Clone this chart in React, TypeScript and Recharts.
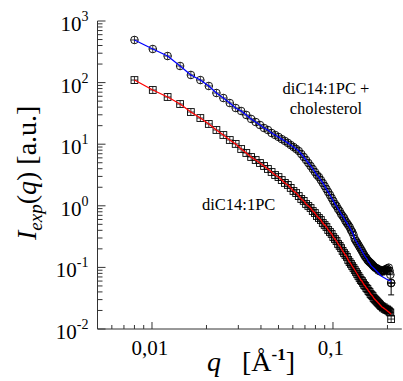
import React from "react";
import { ComposedChart, XAxis, YAxis, Scatter, ErrorBar } from "recharts";

// q values [1/Å]
const Q = [
  0.0080, 0.0101, 0.0122, 0.0143, 0.0164, 0.0185, 0.0206, 0.0227, 0.0248, 0.0269,
  0.0290, 0.0311, 0.0332, 0.0353, 0.0374, 0.0395, 0.0416, 0.0437, 0.0458, 0.0479,
  0.0500, 0.0521, 0.0542, 0.0563, 0.0584, 0.0605, 0.0626, 0.0647, 0.0668, 0.0689,
  0.0710, 0.0731, 0.0752, 0.0773, 0.0794, 0.0815, 0.0836, 0.0857, 0.0878, 0.0899,
  0.0920, 0.0941, 0.0962, 0.0983, 0.1004, 0.1025, 0.1046, 0.1067, 0.1088, 0.1109,
  0.1130, 0.1151, 0.1172, 0.1193, 0.1214, 0.1235, 0.1256, 0.1277, 0.1298, 0.1319,
  0.1340, 0.1361, 0.1382, 0.1403, 0.1424, 0.1445, 0.1466, 0.1487, 0.1508, 0.1529,
  0.1550, 0.1571, 0.1592, 0.1613, 0.1634, 0.1655, 0.1676, 0.1697, 0.1718, 0.1739,
  0.1760, 0.1781, 0.1802, 0.1823, 0.1844, 0.1865, 0.1886, 0.1907, 0.1928, 0.1949,
  0.1970, 0.1991, 0.2012, 0.2033, 0.2054, 0.2075, 0.2096,
];

// diC14:1PC + cholesterol (circles)
const CHOL = [
  492, 351, 270, 186, 133, 110, 88.1, 67.8, 56.2, 46.6,
  38.7, 34.6, 29.8, 25.7, 22.9, 20.5, 18.3, 17.0, 15.2, 14.1,
  13.1, 12.1, 11.3, 10.5, 9.70, 9.01, 8.36, 7.76, 6.94, 6.20,
  5.54, 4.95, 4.43, 3.96, 3.54, 3.16, 2.93, 2.62, 2.35, 2.10,
  1.87, 1.67, 1.50, 1.34, 1.20, 1.07, 0.993, 0.887, 0.823, 0.736,
  0.683, 0.634, 0.567, 0.526, 0.488, 0.453, 0.405, 0.376, 0.336, 0.289,
  0.268, 0.249, 0.231, 0.214, 0.199, 0.185, 0.171, 0.159, 0.148, 0.142,
  0.132, 0.127, 0.122, 0.118, 0.114, 0.109, 0.105, 0.101, 0.0978, 0.0978,
  0.0942, 0.0890, 0.0925, 0.0860, 0.0890, 0.0850, 0.0880, 0.0900, 0.0870, 0.0930,
  0.0910, 0.0960, 0.0890, 0.0990, 0.0880, 0.0760, 0.0558,
];

// fit for diC14:1PC + cholesterol (blue line)
const CHOL_FIT = [
  492, 351, 270, 186, 133, 110, 88.1, 67.8, 56.2, 46.6,
  38.7, 34.6, 29.8, 25.7, 22.9, 20.5, 18.3, 17.0, 15.2, 14.1,
  13.1, 12.1, 11.3, 10.5, 9.70, 9.01, 8.36, 7.76, 6.94, 6.20,
  5.54, 4.95, 4.43, 3.96, 3.54, 3.16, 2.93, 2.62, 2.35, 2.10,
  1.87, 1.67, 1.50, 1.34, 1.20, 1.07, 0.993, 0.887, 0.823, 0.736,
  0.683, 0.634, 0.567, 0.526, 0.488, 0.453, 0.405, 0.376, 0.336, 0.289,
  0.268, 0.249, 0.231, 0.214, 0.199, 0.185, 0.171, 0.159, 0.148, 0.142,
  0.132, 0.122, 0.118, 0.109, 0.105, 0.101, 0.0978, 0.0942, 0.0907, 0.0874,
  0.0842, 0.0811, 0.0781, 0.0752, 0.0725, 0.0712, 0.0699, 0.0686, 0.0673, 0.0661,
  0.0648, 0.0638, 0.0628, 0.0620, 0.0612, 0.0605, 0.0600,
];

// diC14:1PC (squares)
const PC = [
  110, 75.9, 58.4, 44.9, 33.3, 26.6, 21.3, 17.0, 14.1, 11.7,
  10.1, 8.36, 7.20, 6.20, 5.54, 4.95, 4.43, 3.96, 3.54, 3.16,
  2.93, 2.62, 2.35, 2.18, 1.95, 1.74, 1.61, 1.44, 1.29, 1.20,
  1.07, 0.993, 0.921, 0.823, 0.764, 0.683, 0.634, 0.588, 0.526, 0.488,
  0.453, 0.405, 0.376, 0.349, 0.311, 0.289, 0.268, 0.240, 0.223, 0.206,
  0.185, 0.171, 0.159, 0.148, 0.132, 0.122, 0.114, 0.105, 0.0978, 0.0907,
  0.0842, 0.0781, 0.0725, 0.0673, 0.0624, 0.0601, 0.0558, 0.0518, 0.0499, 0.0463,
  0.0446, 0.0414, 0.0399, 0.0370, 0.0356, 0.0343, 0.0319, 0.0307, 0.0296, 0.0285,
  0.0274, 0.0264, 0.0255, 0.0245, 0.0236, 0.0232, 0.0222, 0.0225, 0.0212, 0.0215,
  0.0204, 0.0208, 0.0200, 0.0198, 0.0190, 0.0185, 0.0145,
];

// fit for diC14:1PC (red line)
const PC_FIT = [
  110, 75.9, 58.4, 44.9, 33.3, 26.6, 21.3, 17.0, 14.1, 11.7,
  10.1, 8.36, 7.20, 6.20, 5.54, 4.95, 4.43, 3.96, 3.54, 3.16,
  2.93, 2.62, 2.35, 2.18, 1.95, 1.74, 1.61, 1.44, 1.29, 1.20,
  1.07, 0.993, 0.921, 0.823, 0.764, 0.683, 0.634, 0.588, 0.526, 0.488,
  0.453, 0.405, 0.376, 0.349, 0.311, 0.289, 0.268, 0.240, 0.223, 0.206,
  0.185, 0.171, 0.159, 0.148, 0.132, 0.122, 0.114, 0.105, 0.0978, 0.0907,
  0.0842, 0.0781, 0.0725, 0.0673, 0.0624, 0.0601, 0.0558, 0.0518, 0.0499, 0.0463,
  0.0446, 0.0414, 0.0399, 0.0370, 0.0356, 0.0343, 0.0319, 0.0307, 0.0296, 0.0285,
  0.0274, 0.0264, 0.0255, 0.0245, 0.0236, 0.0228, 0.0223, 0.0218, 0.0213, 0.0208,
  0.0203, 0.0198, 0.0193, 0.0188, 0.0183, 0.0178, 0.0173,
];

// error bar on the last cholesterol point: [down, up]
const CHOL_LAST_ERR = [0.020, 0];

const X_TICKS = [0.006, 0.007, 0.008, 0.009, 0.01, 0.02, 0.03, 0.04, 0.05, 0.06, 0.07, 0.08, 0.09, 0.1, 0.2];
const X_MAJOR = [0.01, 0.1];
const X_LABELS = ["0,01", "0,1"];

const Y_TICKS = [
  0.01, 0.02, 0.03, 0.04, 0.05, 0.06, 0.07, 0.08, 0.09,
  0.1, 0.2, 0.3, 0.4, 0.5, 0.6, 0.7, 0.8, 0.9,
  1, 2, 3, 4, 5, 6, 7, 8, 9,
  10, 20, 30, 40, 50, 60, 70, 80, 90,
  100, 200, 300, 400, 500, 600, 700, 800, 900,
  1000,
];
const Y_MAJOR = [0.01, 0.1, 1, 10, 100, 1000];
const Y_EXP = ["-2", "-1", "0", "1", "2", "3"];

const AXIS = "#333";
const FF = '"Times New Roman", "Liberation Serif", Tinos, Georgia';
// baseline offset (fraction of font size) inside a line-height:1 box
const BL = 0.8375;

const cholPts = Q.map((q, i) => ({ q, I: CHOL[i] }));
const cholFitPts = Q.map((q, i) => ({ q, I: CHOL_FIT[i] }));
const pcPts = Q.map((q, i) => ({ q, I: PC[i] }));
const pcFitPts = Q.map((q, i) => ({ q, I: PC_FIT[i] }));
const cholErrPts = [{ q: Q[Q.length - 1], I: CHOL[CHOL.length - 1], err: CHOL_LAST_ERR }];

const T = (p: any) => {
  const { children, ...rest } = p;
  return (
    <text fill="#000" {...rest} style={{ fontFamily: FF }}>
      {children}
    </text>
  );
};

// HTML label placed by its baseline
const H = (p: any) => {
  const { x, y, size, align, width, children, extra } = p;
  const w = width || 200;
  const left = align === "center" ? x - w / 2 : x;
  return (
    <div
      style={{
        position: "absolute",
        left,
        top: y - size * BL,
        width: align === "center" ? w : undefined,
        textAlign: align === "center" ? "center" : "left",
        fontSize: size,
        lineHeight: 1,
        whiteSpace: "nowrap",
        fontFamily: FF,
        color: "#000",
        ...(extra || {}),
      }}
    >
      {children}
    </div>
  );
};

const XTick = (props: any) => {
  const { x, y, payload } = props;
  const mi = X_MAJOR.indexOf(payload.value);
  const len = mi >= 0 ? 7 : 4;
  return (
    <g>
      <line x1={x} x2={x} y1={y} y2={y - len} stroke={AXIS} strokeWidth={1} />
      {mi >= 0 && (
        <T x={x - 2} y={y + 26} textAnchor="middle" fontSize={21}>
          {X_LABELS[mi]}
        </T>
      )}
    </g>
  );
};

const YTick = (props: any) => {
  const { x, y, payload } = props;
  const mi = Y_MAJOR.indexOf(payload.value);
  const len = mi >= 0 ? 8 : 5;
  return (
    <g>
      <line x1={x} x2={x + len} y1={y} y2={y} stroke={AXIS} strokeWidth={1} />
      {mi >= 0 && (
        <T x={x - 9} y={y + 10} textAnchor="end" fontSize={21}>
          10
          <tspan dy={-10} fontSize={14}>{Y_EXP[mi]}</tspan>
        </T>
      )}
    </g>
  );
};

const CircleMark = (props: any) => {
  const { cx, cy } = props;
  if (cx == null || cy == null) return <g />;
  const r = 3.8;
  return (
    <g>
      <circle cx={cx} cy={cy} r={r} fill="none" stroke="#000" strokeWidth={0.9} />
      <line x1={cx - r} x2={cx + r} y1={cy} y2={cy} stroke="#000" strokeWidth={0.8} />
      <line x1={cx} x2={cx} y1={cy - r} y2={cy + r} stroke="#000" strokeWidth={0.8} />
    </g>
  );
};

const SquareMark = (props: any) => {
  const { cx, cy } = props;
  if (cx == null || cy == null) return <g />;
  const h = 3.4;
  return (
    <g>
      <rect x={cx - h} y={cy - h} width={2 * h} height={2 * h} fill="none" stroke="#000" strokeWidth={0.9} />
      <line x1={cx - h} x2={cx + h} y1={cy} y2={cy} stroke="#000" strokeWidth={0.8} />
      <line x1={cx} x2={cx} y1={cy - h} y2={cy + h} stroke="#000" strokeWidth={0.8} />
    </g>
  );
};

const NoMark = () => <g />;

export default function App() {
  return (
    <div
      style={{
        position: "absolute",
        left: 0,
        top: 0,
        width: 403,
        height: 381,
        background: "#fff",
        fontFamily: FF,
      }}
    >
      <ComposedChart width={403} height={381} margin={{ top: 21, right: 1.2, bottom: 0, left: 0 }}>
        <XAxis
          dataKey="q"
          type="number"
          scale="log"
          domain={[0.005, 0.24]}
          ticks={X_TICKS}
          interval={0}
          allowDataOverflow
          height={52}
          tickSize={0}
          tickMargin={0}
          tickLine={false}
          axisLine={{ stroke: AXIS, strokeWidth: 1 }}
          tick={<XTick />}
        />
        <YAxis
          type="number"
          scale="log"
          domain={[0.01, 1000]}
          ticks={Y_TICKS}
          interval={0}
          allowDataOverflow
          width={97.5}
          tickSize={0}
          tickMargin={0}
          tickLine={false}
          axisLine={{ stroke: AXIS, strokeWidth: 1 }}
          tick={<YTick />}
        />
        <Scatter data={pcPts} dataKey="I" shape={<SquareMark />} isAnimationActive={false} />
        <Scatter data={cholPts} dataKey="I" shape={<CircleMark />} isAnimationActive={false} />
        <Scatter data={cholErrPts} dataKey="I" shape={<CircleMark />} isAnimationActive={false}>
          <ErrorBar dataKey="err" direction="y" width={3} stroke="#000" strokeWidth={1} />
        </Scatter>
        <Scatter
          data={pcFitPts}
          dataKey="I"
          shape={<NoMark />}
          line={{ stroke: "#ff0000", strokeWidth: 1.3 }}
          lineType="joint"
          isAnimationActive={false}
        />
        <Scatter
          data={cholFitPts}
          dataKey="I"
          shape={<NoMark />}
          line={{ stroke: "#0000ff", strokeWidth: 1.3 }}
          lineType="joint"
          isAnimationActive={false}
        />
      </ComposedChart>

      <H x={326} y={95} size={16.5} align="center">diC14:1PC +</H>
      <H x={326} y={115} size={16.5} align="center">cholesterol</H>
      <H x={202} y={211} size={16.5}>diC14:1PC</H>

      <H x={207} y={371} size={28} extra={{ fontStyle: "italic" }}>q</H>
      <H x={242} y={371} size={28}>
        [Å
        <span style={{ position: "relative", top: -11, fontSize: 17, fontWeight: "bold" }}>-1</span>]
      </H>

      <div
        style={{
          position: "absolute",
          left: 36,
          top: 240,
          transformOrigin: "0 0",
          transform: `rotate(-90deg) translateY(${-28 * BL}px)`,
          fontSize: 28,
          lineHeight: 1,
          whiteSpace: "nowrap",
          fontFamily: FF,
          color: "#000",
        }}
      >
        <span style={{ fontStyle: "italic" }}>I</span>
        <span style={{ fontStyle: "italic", fontSize: 19, position: "relative", top: 6 }}>exp</span>
        (<span style={{ fontStyle: "italic" }}>q</span>) [a.u.]
      </div>
    </div>
  );
}
